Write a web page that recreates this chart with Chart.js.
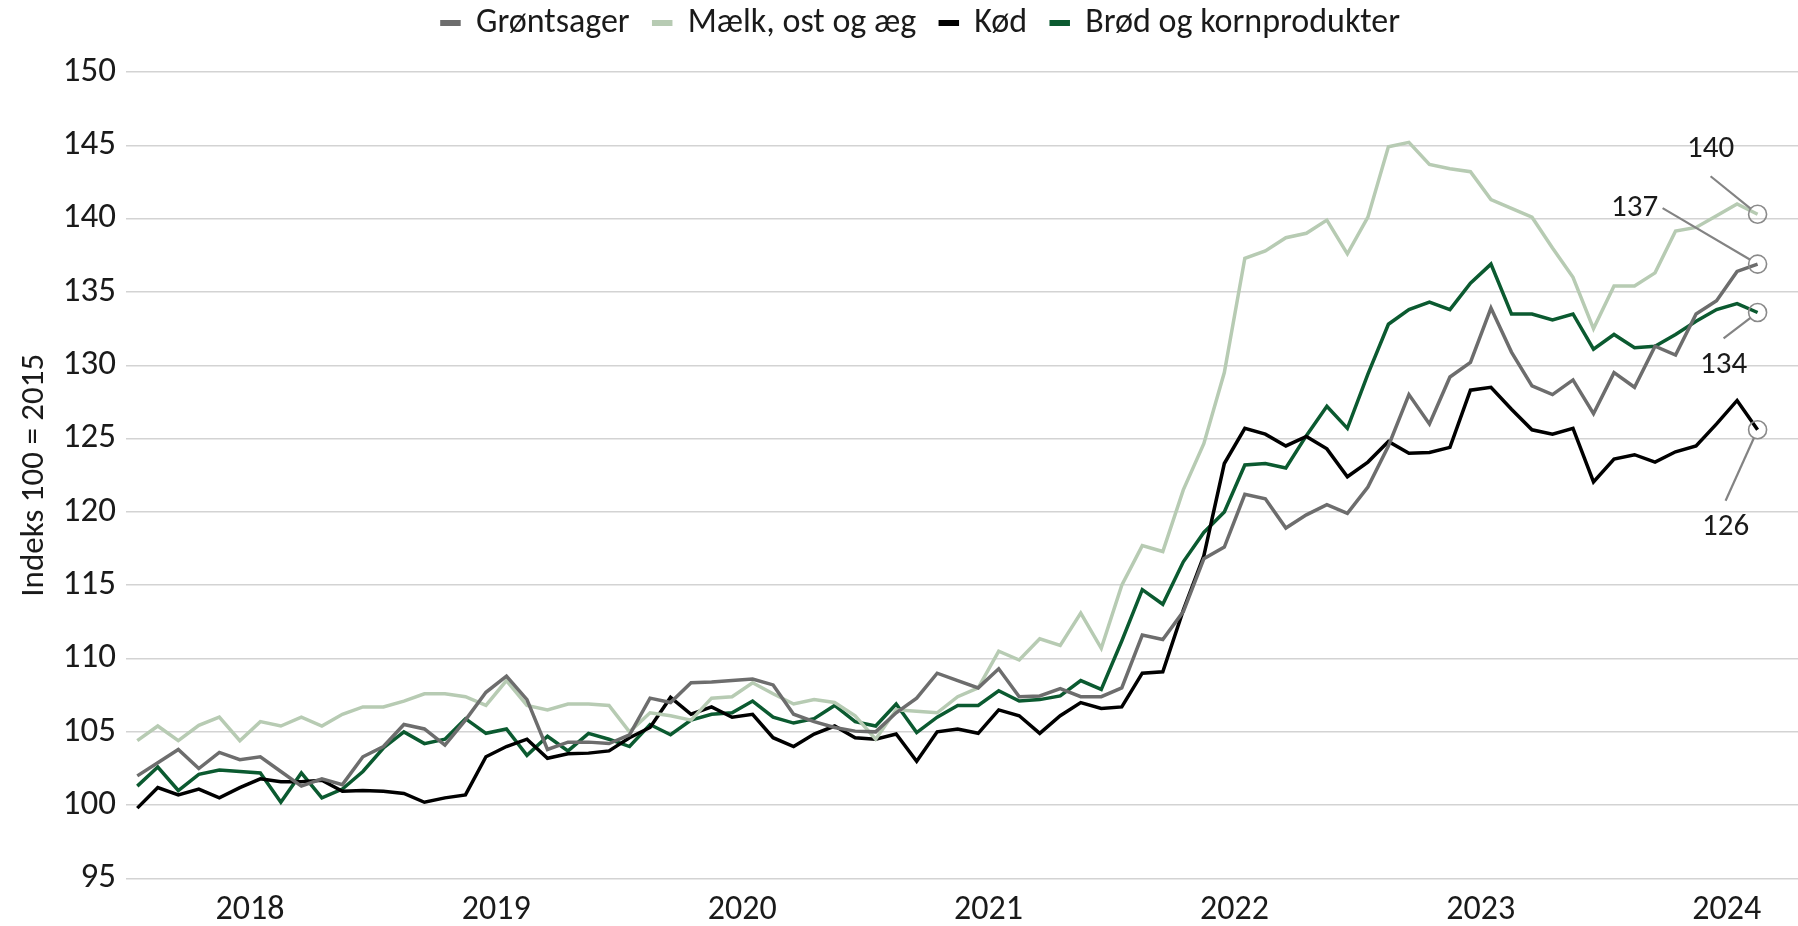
<!DOCTYPE html>
<html>
<head>
<meta charset="utf-8">
<script src="https://cdn.jsdelivr.net/npm/chart.js@4.4.1/dist/chart.umd.min.js"></script>
<style>
  html, body { margin: 0; padding: 0; background: #fff; }
  #chart { display: block; }
</style>
</head>
<body>
<canvas id="chart" width="1798" height="926"></canvas>
<script>
const ctx = document.getElementById('chart').getContext('2d');

// Monthly index values, Jan 2018 - Aug 2024 (index 100 = 2015)
const years = ['2018', '2019', '2020', '2021', '2022', '2023', '2024'];
const months = [];
for (const y of years) {
  for (let m = 1; m <= 12; m++) {
    if (y === '2024' && m > 8) break;
    months.push(y + '-' + String(m).padStart(2, '0'));
  }
}

const seriesNames = ['Grøntsager', 'Mælk, ost og æg', 'Kød', 'Brød og kornprodukter'];
const seriesColors = ['#6d6d6d', '#b7cbb3', '#000000', '#0b5a30'];

const groentsager = [
  102.0, 102.9, 103.8, 102.5, 103.6, 103.1, 103.3, 102.3, 101.3, 101.8, 101.4, 103.3,
  104.0, 105.5, 105.2, 104.1, 105.8, 107.7, 108.8, 107.2, 103.8, 104.3, 104.3, 104.2,
  104.8, 107.3, 107.0, 108.35, 108.4, 108.5, 108.6, 108.2, 106.2, 105.7, 105.3, 105.05,
  105.0, 106.3, 107.3, 109.0, 108.5, 108.0, 109.3, 107.4, 107.45, 107.95, 107.4, 107.4,
  108.0, 111.6, 111.3, 113.2, 116.8, 117.6, 121.2, 120.9, 118.9, 119.8, 120.5, 119.9,
  121.7, 124.5, 128.0, 126.0, 129.2, 130.2, 133.9, 130.9, 128.6, 128.0, 129.0, 126.7,
  129.5, 128.5, 131.3, 130.7, 133.5, 134.4, 136.4, 136.9
];
const maelk = [
  104.4, 105.4, 104.4, 105.45, 106.0, 104.4, 105.7, 105.4, 106.0, 105.4, 106.2, 106.7,
  106.7, 107.1, 107.6, 107.6, 107.4, 106.8, 108.5, 106.8, 106.5, 106.9, 106.9, 106.8,
  105.0, 106.3, 106.1, 105.8, 107.3, 107.4, 108.35, 107.6, 106.9, 107.2, 107.0, 106.1,
  104.5, 106.5, 106.4, 106.3, 107.4, 108.0, 110.5, 109.9, 111.35, 110.9, 113.1, 110.7,
  115.0, 117.7, 117.3, 121.5, 124.65, 129.5, 137.3, 137.8, 138.7, 139.0, 139.9, 137.6,
  140.1, 144.9, 145.2, 143.7, 143.4, 143.2, 141.3, 140.7, 140.1, 138.0, 136.0, 132.5,
  135.4, 135.4, 136.3, 139.15, 139.4, 140.2, 141.0, 140.3
];
const koed = [
  99.8, 101.2, 100.7, 101.1, 100.5, 101.2, 101.8, 101.6, 101.6, 101.7, 100.95, 101.0,
  100.95, 100.8, 100.2, 100.5, 100.7, 103.3, 104.0, 104.5, 103.2, 103.5, 103.55, 103.7,
  104.6, 105.3, 107.35, 106.2, 106.7, 106.0, 106.2, 104.6, 104.0, 104.85, 105.4, 104.6,
  104.5, 104.85, 103.0, 105.0, 105.2, 104.9, 106.5, 106.1, 104.9, 106.1, 107.0, 106.6,
  106.7, 109.0, 109.1, 113.3, 117.0, 123.3, 125.7, 125.3, 124.5, 125.15, 124.3, 122.4,
  123.4, 124.8, 124.0, 124.05, 124.4, 128.3, 128.5, 127.0, 125.6, 125.3, 125.7, 122.05,
  123.6, 123.9, 123.4, 124.1, 124.5, 126.0, 127.6, 125.6
];
const broed = [
  101.3, 102.6, 101.0, 102.1, 102.4, 102.3, 102.2, 100.2, 102.2, 100.5, 101.1, 102.3,
  103.9, 105.0, 104.2, 104.5, 105.9, 104.9, 105.2, 103.4, 104.7, 103.7, 104.9, 104.5,
  104.0, 105.5, 104.8, 105.8, 106.2, 106.3, 107.1, 106.0, 105.6, 105.9, 106.8, 105.7,
  105.4, 106.9, 104.95, 106.0, 106.8, 106.8, 107.8, 107.1, 107.2, 107.45, 108.5, 107.9,
  111.2, 114.7, 113.7, 116.6, 118.6, 120.0, 123.2, 123.3, 123.0, 125.2, 127.2, 125.7,
  129.4, 132.8, 133.8, 134.3, 133.8, 135.6, 136.9, 133.5, 133.5, 133.1, 133.5, 131.1,
  132.1, 131.2, 131.3, 132.1, 133.0, 133.8, 134.2, 133.6
];
const seriesValues = [groentsager, maelk, koed, broed];

const yTicks = [95, 100, 105, 110, 115, 120, 125, 130, 135, 140, 145, 150];

// callout placement relative to the last point (pixels)
const callouts = [
  { line: [-95, -56], text: [-123, -56] },
  { line: [-47, -38], text: [-47, -65] },
  { line: [-32, 71], text: [-32, 97] },
  { line: [-34, 26], text: [-34, 53] }
];

const FONT = 'Carlito, Lato, "Open Sans", sans-serif';

const endLabels = {
  id: 'endLabels',
  afterDatasetsDraw(chart) {
    const c = chart.ctx;
    chart.data.datasets.forEach((ds, i) => {
      const meta = chart.getDatasetMeta(i);
      const pt = meta.data[meta.data.length - 1];
      const val = ds.data[ds.data.length - 1].y;
      const co = callouts[i];
      const r = 9;
      c.save();
      c.strokeStyle = '#8a8a8a';
      c.lineWidth = 1.6;
      c.beginPath();
      c.arc(pt.x, pt.y, r, 0, Math.PI * 2);
      c.stroke();
      const sx = pt.x + co.line[0], sy = pt.y + co.line[1];
      const dx = pt.x - sx, dy = pt.y - sy;
      const len = Math.sqrt(dx * dx + dy * dy);
      c.strokeStyle = '#838383';
      c.lineWidth = 2.2;
      c.beginPath();
      c.moveTo(sx, sy);
      c.lineTo(pt.x - dx / len * r, pt.y - dy / len * r);
      c.stroke();
      c.fillStyle = '#1a1a1a';
      c.font = '31px ' + FONT;
      c.textAlign = 'center';
      c.textBaseline = 'middle';
      c.fillText(String(Math.round(val)), pt.x + co.text[0], pt.y + co.text[1]);
      c.restore();
    });
  }
};

const legendTweak = {
  id: 'legendTweak',
  beforeInit(chart) {
    const fit = chart.legend.fit;
    chart.legend.fit = function () {
      fit.bind(chart.legend)();
      this.height = 90;
    };
  },
  afterLayout(chart) {
    chart.legend.left += 22;
    chart.legend.right += 22;
  }
};

const chart = new Chart(ctx, {
  type: 'line',
  data: {
    datasets: seriesNames.map((name, i) => ({
      label: name,
      data: seriesValues[i].map((v, k) => ({ x: k, y: v })),
      borderColor: seriesColors[i],
      backgroundColor: seriesColors[i],
      borderWidth: 3.5,
      pointRadius: 0,
      tension: 0,
      fill: false
    }))
  },
  options: {
    responsive: false,
    devicePixelRatio: 1,
    animation: false,
    layout: { padding: { top: -18, left: 0, right: 0, bottom: 0 } },
    plugins: {
      tooltip: { enabled: false },
      legend: {
        position: 'top',
        labels: {
          color: '#1a1a1a',
          font: { family: FONT, size: 34 },
          boxWidth: 17,
          boxHeight: 2.5,
          padding: 24
        }
      }
    },
    scales: {
      x: {
        type: 'linear',
        min: -0.55,
        max: 80.97,
        grid: { display: false },
        border: { display: false },
        afterBuildTicks: (scale) => {
          scale.ticks = years.map((y, k) => ({ value: k * 12 + 5.5 }));
        },
        afterFit: (scale) => { scale.height = 47.5; },
        ticks: {
          color: '#1a1a1a',
          font: { family: FONT, size: 34 },
          padding: 4,
          maxRotation: 0,
          autoSkip: false,
          callback: (value) => years[Math.floor(value / 12)]
        }
      },
      y: {
        min: 95,
        max: 150,
        afterBuildTicks: (scale) => {
          scale.ticks = yTicks.map(v => ({ value: v }));
        },
        afterFit: (scale) => { scale.width = 126; },
        grid: { color: '#d3d3d3', lineWidth: 1.5, drawTicks: false },
        border: { display: false },
        ticks: {
          color: '#1a1a1a',
          font: { family: FONT, size: 35 },
          padding: 10
        },
        title: {
          display: true,
          text: 'Indeks 100 = 2015',
          color: '#1a1a1a',
          font: { family: FONT, size: 33 },
          padding: { top: 15, bottom: 0 }
        }
      }
    }
  },
  plugins: [endLabels, legendTweak]
});
</script>
</body>
</html>
